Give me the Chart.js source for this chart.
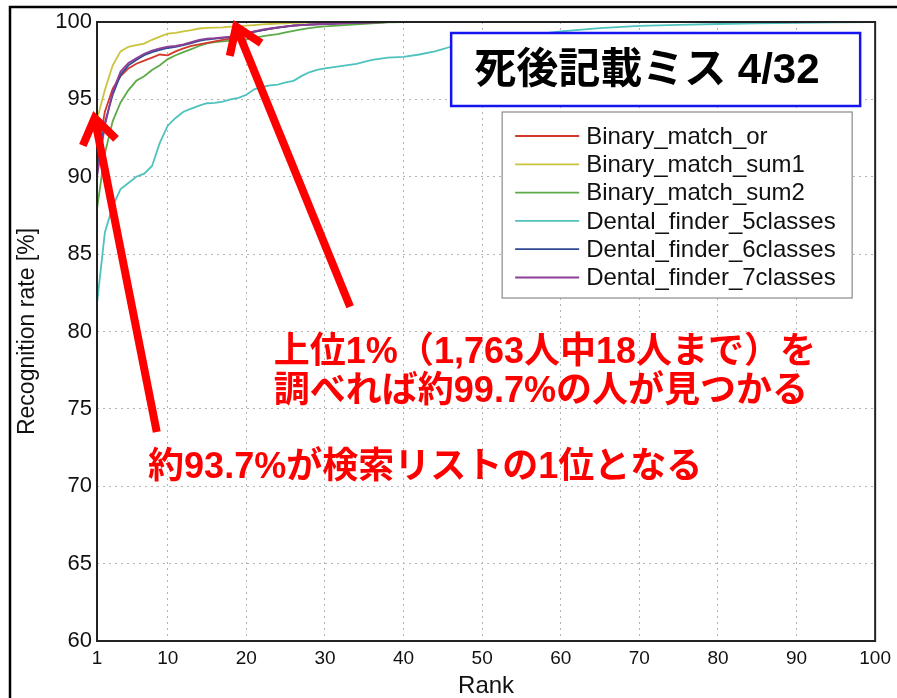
<!DOCTYPE html>
<html>
<head>
<meta charset="utf-8">
<title>Recognition rate by rank</title>
<script src="https://cdn.jsdelivr.net/npm/chart.js@4.4.1/dist/chart.umd.min.js"></script>
<style>
html, body { margin: 0; padding: 0; background: #fff; }
#wrap { width: 897px; height: 698px; }
</style>
</head>
<body>
<div id="wrap"><canvas id="rank-chart" width="897" height="698"></canvas></div>
<script>
// ranks sampled from the cumulative match curves
var ranks = [1, 2, 3, 4, 5, 6, 7, 8, 9, 10, 11, 12, 13, 14, 15, 16, 17, 18, 19, 20,
    21, 22, 23, 24, 25, 26, 27, 28, 29, 30, 32, 34, 36, 38, 40, 42, 44, 46, 48, 50,
    55, 60, 65, 70, 75, 80, 85, 90, 95, 100];

var binaryOr = [91.3, 94.2, 95.7, 96.5, 97.0, 97.3, 97.5, 97.7, 97.9, 97.85, 98.1, 98.3, 98.45, 98.55, 98.65, 98.75, 98.85, 98.92, 99.0, 99.25,
    99.38, 99.48, 99.56, 99.64, 99.7, 99.76, 99.8, 99.83, 99.86, 99.88, 99.92, 99.95, 99.97, 99.99, 100, 100, 100, 100, 100, 100,
    100, 100, 100, 100, 100, 100, 100, 100, 100, 100];
var binarySum1 = [93.7, 95.6, 97.2, 98.1, 98.4, 98.5, 98.6, 98.85, 99.05, 99.25, 99.3, 99.4, 99.48, 99.58, 99.62, 99.64, 99.65, 99.7, 99.72, 99.76,
    99.8, 99.85, 99.87, 99.9, 99.92, 99.94, 99.95, 99.96, 99.97, 99.98, 99.98, 99.99, 100, 100, 100, 100, 100, 100, 100, 100,
    100, 100, 100, 100, 100, 100, 100, 100, 100, 100];
var binarySum2 = [87.9, 91.5, 93.6, 94.8, 95.6, 96.2, 96.5, 96.9, 97.2, 97.6, 97.85, 98.05, 98.25, 98.45, 98.62, 98.7, 98.75, 98.8, 98.85, 98.88,
    98.98, 99.07, 99.15, 99.22, 99.33, 99.43, 99.52, 99.6, 99.67, 99.72, 99.78, 99.85, 99.92, 99.97, 100, 100, 100, 100, 100, 100,
    100, 100, 100, 100, 100, 100, 100, 100, 100, 100];
var dental5 = [81.8, 86.4, 88.1, 89.2, 89.6, 90.0, 90.2, 90.7, 92.2, 93.3, 93.8, 94.2, 94.4, 94.6, 94.75, 94.78, 94.85, 95.0, 95.1, 95.3,
    95.65, 95.8, 95.9, 95.95, 96.1, 96.2, 96.5, 96.75, 96.9, 97.0, 97.15, 97.3, 97.55, 97.7, 97.75, 97.9, 98.1, 98.4, 98.6, 98.8,
    99.1, 99.4, 99.6, 99.75, 99.82, 99.87, 99.92, 99.95, 99.98, 100];
var dental6 = [90.6, 93.5, 95.3, 96.6, 97.2, 97.55, 97.85, 98.05, 98.2, 98.32, 98.4, 98.5, 98.63, 98.78, 98.87, 98.92, 98.97, 99.02, 99.07, 99.22,
    99.36, 99.46, 99.55, 99.63, 99.7, 99.76, 99.8, 99.83, 99.85, 99.87, 99.92, 99.95, 99.98, 100, 100, 100, 100, 100, 100, 100,
    100, 100, 100, 100, 100, 100, 100, 100, 100, 100];
var dental7 = [90.0, 93.3, 95.5, 96.8, 97.35, 97.65, 97.95, 98.15, 98.3, 98.4, 98.45, 98.55, 98.7, 98.85, 98.92, 98.95, 99.0, 99.05, 99.1, 99.28,
    99.4, 99.5, 99.58, 99.65, 99.72, 99.78, 99.8, 99.83, 99.85, 99.87, 99.92, 99.95, 99.98, 100, 100, 100, 100, 100, 100, 100,
    100, 100, 100, 100, 100, 100, 100, 100, 100, 100];

var xTickValues = [1, 10, 20, 30, 40, 50, 60, 70, 80, 90, 100];

var boxTitle = '死後記載ミス 4/32';
var noteTop = ['上位1%（1,763人中18人まで）を', '調べれば約99.7%の人が見つかる'];
var noteBottom = '約93.7%が検索リストの1位となる';

// arrows as [rank, rate] pairs: tail then head
var arrowFirst = [[8.6, 73.5], [0.7, 93.8]];
var arrowTop = [[33.2, 81.6], [18.7, 99.7]];

function points(values) {
    return ranks.map(function (r, i) { return { x: r, y: values[i] }; });
}

function series(label, values, color, order) {
    return {
        label: label,
        data: points(values),
        borderColor: color,
        backgroundColor: color,
        borderWidth: 1.8,
        pointRadius: 0,
        tension: 0,
        fill: false,
        order: order
    };
}

var latinCjk = '"Liberation Sans", "Noto Sans CJK JP", sans-serif';

function toPx(chart, pair) {
    return {
        x: chart.scales.x.getPixelForValue(pair[0]),
        y: chart.scales.y.getPixelForValue(pair[1])
    };
}

function drawArrow(ctx, tail, head) {
    var ang = Math.atan2(head.y - tail.y, head.x - tail.x);
    var len = 30, spread = 0.6;
    ctx.beginPath();
    ctx.moveTo(tail.x, tail.y);
    ctx.lineTo(head.x, head.y);
    ctx.stroke();
    ctx.beginPath();
    ctx.moveTo(head.x - len * Math.cos(ang - spread), head.y - len * Math.sin(ang - spread));
    ctx.lineTo(head.x, head.y);
    ctx.lineTo(head.x - len * Math.cos(ang + spread), head.y - len * Math.sin(ang + spread));
    ctx.stroke();
}

var pageFrame = {
    id: 'pageFrame',
    beforeDraw: function (chart) {
        var ctx = chart.ctx;
        ctx.save();
        ctx.fillStyle = '#fff';
        ctx.fillRect(0, 0, chart.width, chart.height);
        ctx.strokeStyle = '#000';
        ctx.lineWidth = 2.5;
        ctx.beginPath();
        ctx.moveTo(chart.width + 2, 7);
        ctx.lineTo(10, 7);
        ctx.lineTo(10, chart.height + 2);
        ctx.stroke();
        ctx.restore();
    }
};

var overlays = {
    id: 'overlays',
    afterDatasetsDraw: function (chart) {
        var ctx = chart.ctx;
        var a = chart.chartArea;
        ctx.save();

        // plot frame
        ctx.strokeStyle = '#222';
        ctx.lineWidth = 2;
        ctx.strokeRect(a.left, a.top, a.right - a.left, a.bottom - a.top);

        // title box
        var tx = a.right - 424, ty = a.top + 11, tw = 409, th = 73;
        ctx.fillStyle = '#fff';
        ctx.fillRect(tx, ty, tw, th);
        ctx.strokeStyle = '#1414f0';
        ctx.lineWidth = 2.5;
        ctx.strokeRect(tx, ty, tw, th);
        ctx.fillStyle = '#000';
        ctx.font = 'bold 42px ' + latinCjk;
        ctx.textAlign = 'left';
        ctx.textBaseline = 'middle';
        ctx.fillText(boxTitle, tx + 23, ty + th / 2 + 2);

        // legend
        var lx = a.right - 373, ly = a.top + 90, lw = 350, lh = 186;
        ctx.fillStyle = '#fff';
        ctx.fillRect(lx, ly, lw, lh);
        ctx.strokeStyle = '#8a8a8a';
        ctx.lineWidth = 1.2;
        ctx.strokeRect(lx, ly, lw, lh);
        ctx.font = '24px "Liberation Sans", Arial, sans-serif';
        ctx.fillStyle = '#111';
        chart.data.datasets.forEach(function (ds, i) {
            var ry = ly + 24 + i * 28.3;
            ctx.strokeStyle = ds.borderColor;
            ctx.lineWidth = 1.8;
            ctx.beginPath();
            ctx.moveTo(lx + 13, ry);
            ctx.lineTo(lx + 77, ry);
            ctx.stroke();
            ctx.fillText(ds.label, lx + 84, ry + 1);
        });
        ctx.restore();
    },
    afterDraw: function (chart) {
        var ctx = chart.ctx;
        ctx.save();
        ctx.strokeStyle = '#ff0000';
        ctx.lineWidth = 8;
        ctx.lineJoin = 'miter';
        ctx.lineCap = 'butt';
        drawArrow(ctx, toPx(chart, arrowFirst[0]), toPx(chart, arrowFirst[1]));
        drawArrow(ctx, toPx(chart, arrowTop[0]), toPx(chart, arrowTop[1]));

        ctx.fillStyle = '#ff0000';
        ctx.font = 'bold 36px ' + latinCjk;
        ctx.textAlign = 'left';
        ctx.textBaseline = 'middle';
        var p1 = toPx(chart, [23.5, 78.6]);
        ctx.fillText(noteTop[0], p1.x, p1.y);
        var p2 = toPx(chart, [23.5, 76.1]);
        ctx.fillText(noteTop[1], p2.x, p2.y);
        var p3 = toPx(chart, [7.5, 71.2]);
        ctx.fillText(noteBottom, p3.x, p3.y);
        ctx.restore();
    }
};

var ctx = document.getElementById('rank-chart');
var rankChart = new Chart(ctx, {
    type: 'line',
    data: {
        datasets: [
            series('Binary_match_or', binaryOr, '#d2382c', 3),
            series('Binary_match_sum1', binarySum1, '#c9c43c', 4),
            series('Binary_match_sum2', binarySum2, '#5cab48', 5),
            series('Dental_finder_5classes', dental5, '#4ec2bd', 6),
            series('Dental_finder_6classes', dental6, '#2f4a90', 2),
            series('Dental_finder_7classes', dental7, '#8d3f97', 1)
        ]
    },
    options: {
        responsive: false,
        animation: false,
        devicePixelRatio: 1,
        layout: { padding: { left: 10, top: 22, right: 18, bottom: 0 } },
        plugins: {
            legend: { display: false },
            tooltip: { enabled: false }
        },
        scales: {
            x: {
                type: 'linear',
                min: 1,
                max: 100,
                afterBuildTicks: function (axis) {
                    axis.ticks = xTickValues.map(function (v) { return { value: v }; });
                },
                afterFit: function (axis) { axis.height = 57; },
                ticks: {
                    autoSkip: false,
                    maxRotation: 0,
                    padding: 6,
                    color: '#111',
                    font: { family: '"Liberation Sans", sans-serif', size: 19 }
                },
                grid: { color: '#b4b4b4', lineWidth: 1, drawTicks: false },
                border: { display: false, dash: [2, 4] },
                title: {
                    display: true,
                    text: 'Rank',
                    color: '#111',
                    padding: { top: 0, bottom: 0 },
                    font: { family: '"Liberation Sans", sans-serif', size: 24, lineHeight: 1 }
                }
            },
            y: {
                min: 60,
                max: 100,
                afterFit: function (axis) { axis.width = 87; },
                ticks: {
                    stepSize: 5,
                    padding: 5,
                    color: '#111',
                    font: { family: '"Liberation Sans", sans-serif', size: 22 }
                },
                grid: { color: '#b4b4b4', lineWidth: 1, drawTicks: false },
                border: { display: false, dash: [2, 4] },
                title: {
                    display: true,
                    text: 'Recognition rate [%]',
                    color: '#111',
                    padding: { top: 6, bottom: 0 },
                    font: { family: '"Liberation Sans", sans-serif', size: 23, lineHeight: 1 }
                }
            }
        }
    },
    plugins: [pageFrame, overlays]
});
</script>
</body>
</html>
